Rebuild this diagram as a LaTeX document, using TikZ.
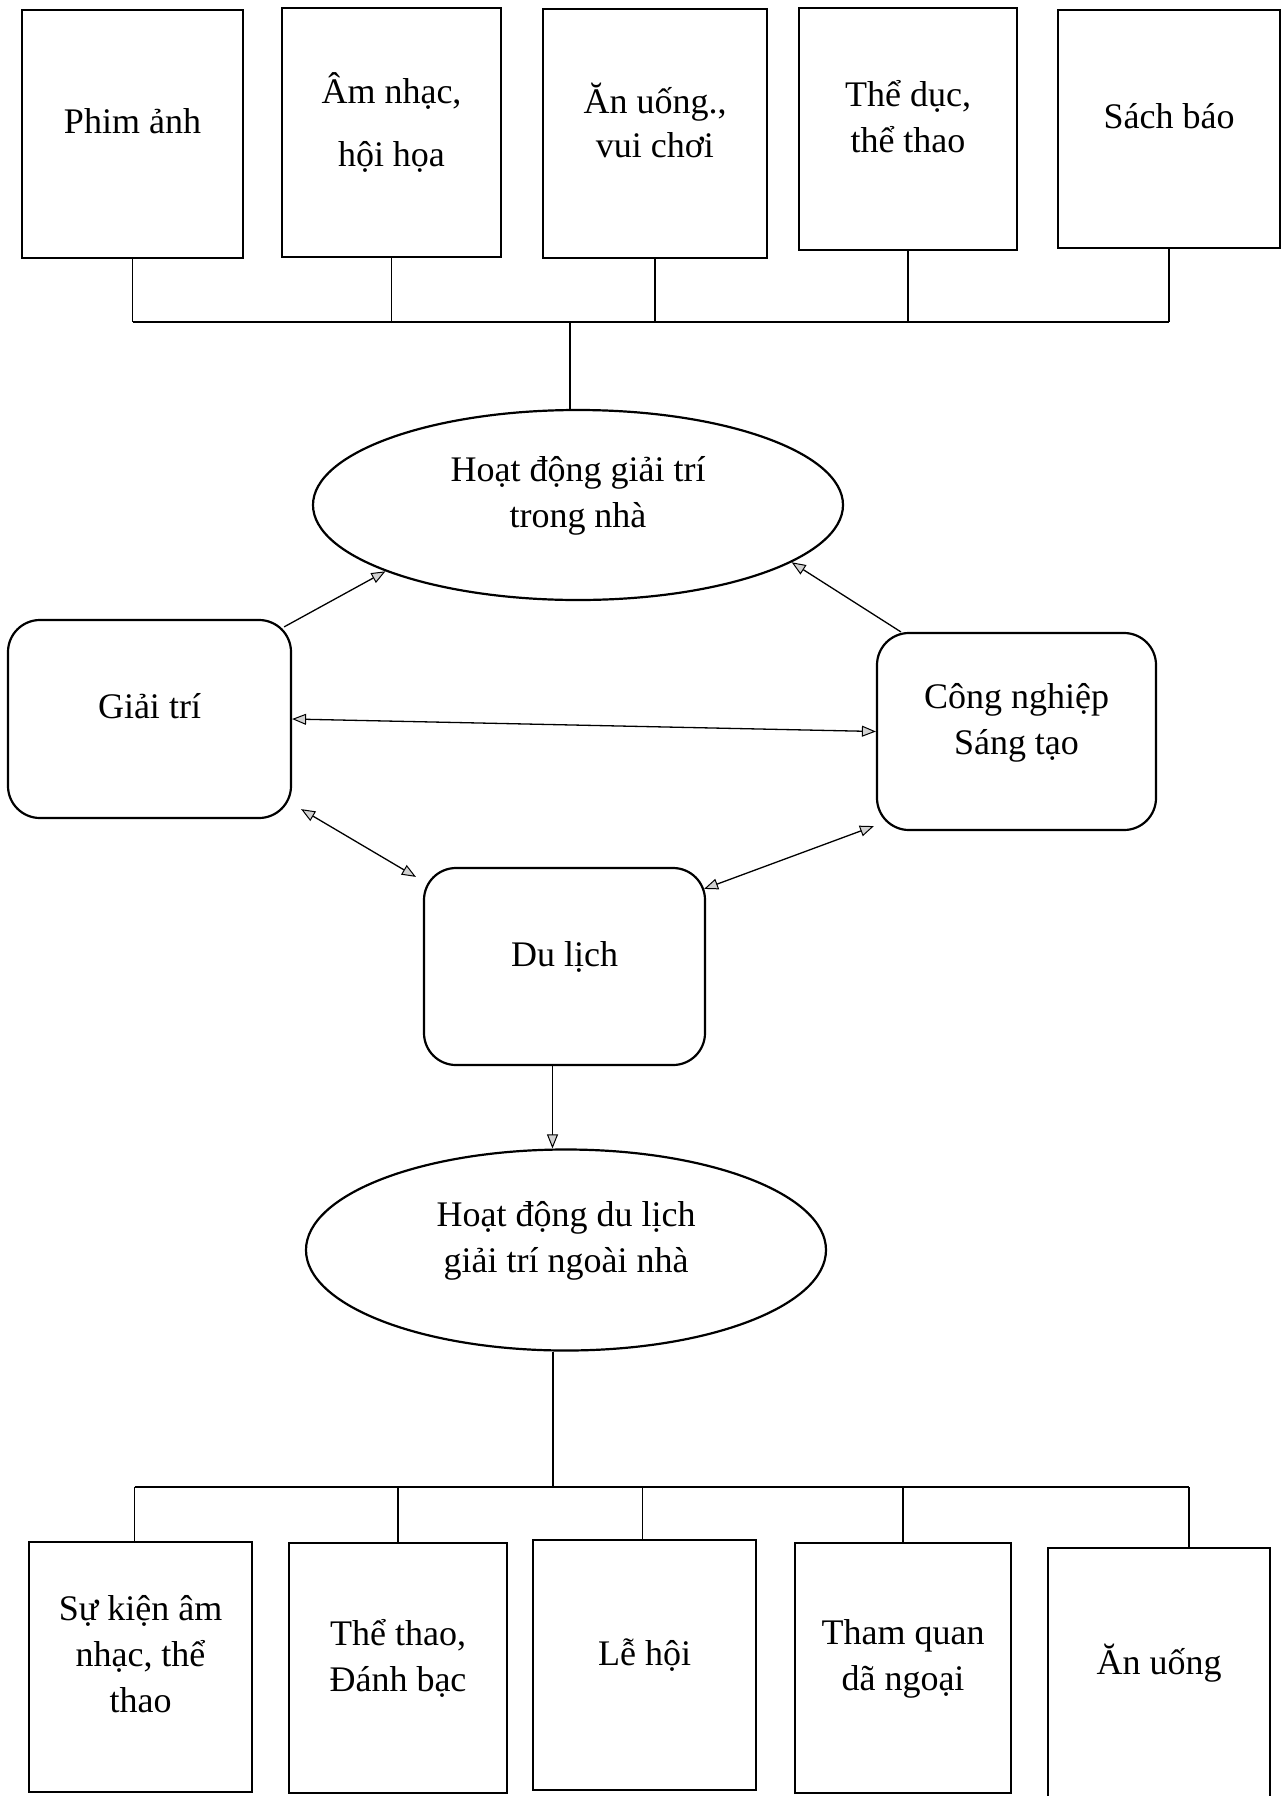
\documentclass[tikz,border=0pt]{standalone}
\usepackage{fontspec}
\setmainfont{Liberation Serif}
\usetikzlibrary{arrows.meta,shapes.geometric,calc}
\begin{document}
\begin{tikzpicture}[x=1pt,y=-1pt,
  lift/.style={execute at end node={\rule[-26pt]{0pt}{0pt}}},
  box/.style={draw, line width=2.2pt, inner sep=0pt, align=center, lift, font=\fontsize{36}{46}\selectfont},
  rbox/.style={box, rounded corners=32pt},
  ell/.style={draw, ellipse, line width=2.2pt, inner sep=0pt, align=center, lift, font=\fontsize{36}{46}\selectfont},
  link/.style={line width=1.3pt},
  tip/.tip={Triangle[length=14pt,width=11pt,fill=gray!35,line width=1pt]},
  arr/.style={line width=1.3pt, -tip},
  darr/.style={line width=1.3pt, tip-tip},
]
\useasboundingbox (0,0) rectangle (1283,1796);

% top boxes
\node[box, minimum width=221pt, minimum height=248pt] (t1) at (132.5,134) {Phim ảnh};
\node[box, minimum width=219pt, minimum height=249pt, font=\fontsize{36}{63}\selectfont] (t2) at (391.5,132.5) {Âm nhạc,\\hội họa};
\node[box, minimum width=224pt, minimum height=249pt, font=\fontsize{36}{44}\selectfont] (t3) at (655,133.5) {Ăn uống.,\\vui chơi};
\node[box, minimum width=218pt, minimum height=242pt] (t4) at (908,129) {Thể dục,\\thể thao};
\node[box, minimum width=222pt, minimum height=238pt] (t5) at (1169,129) {Sách báo};

\coordinate (tb) at (570,322);
\foreach \n in {t1,t2,t3,t4,t5}{
  \draw[link] (\n.south) -- (\n.south |- tb);
}
\draw[link] (t1.south |- tb) -- (t5.south |- tb);

% ellipse 1
\node[ell, minimum width=530pt, minimum height=190pt] (e1) at (578,505) {Hoạt động giải trí\\trong nhà};
\draw[link] (tb) -- (tb |- e1.north);

% middle boxes
\node[rbox, minimum width=283pt, minimum height=198pt] (g) at (149.5,719) {Giải trí};
\node[rbox, minimum width=279pt, minimum height=197pt] (c) at (1016.5,731.5) {Công nghiệp\\Sáng tạo};
\node[rbox, minimum width=281pt, minimum height=197pt] (d) at (564.5,966.5) {Du lịch};

% ellipse 2
\node[ell, minimum width=520pt, minimum height=201pt] (e2) at (566,1250) {Hoạt động du lịch\\giải trí ngoài nhà};

% arrows
\draw[arr] ($(g.north east)+(-8,8)$) -- (e1.199);
\draw[arr] ($(c.north west)+(25,0)$) -- (e1.345);
\draw[darr] (g.east) -- (c.west);
\draw[darr] ($(g.south east)+(9,-10)$) -- ($(d.north west)+(-7,10)$);
\draw[darr] ($(d.north east)+(-2,22)$) -- ($(c.south west)+(-2,-5)$);
\draw[arr] ([xshift=-12pt]d.south) -- ([xshift=-12pt]d.south |- e2.north);

% bottom boxes
\node[box, minimum width=223pt, minimum height=250pt] (b1) at (140.5,1667) {Sự kiện âm\\nhạc, thể\\thao};
\node[box, minimum width=218pt, minimum height=250pt] (b2) at (398,1668) {Thể thao,\\Đánh bạc};
\node[box, minimum width=223pt, minimum height=250pt] (b3) at (644.5,1665) {Lễ hội};
\node[box, minimum width=216pt, minimum height=250pt] (b4) at (903,1668) {Tham quan\\dã ngoại};
\node[box, minimum width=222pt, minimum height=249pt] (b5) at (1159,1672.5) {Ăn uống};

\coordinate (bb) at (553,1487);
\draw[link] (bb |- e2.south) -- (bb);
\draw[link] ([xshift=-6pt]b1.north) -- ([xshift=-6pt]b1.north |- bb);
\draw[link] (b2.north) -- (b2.north |- bb);
\draw[link] ([xshift=-2pt]b3.north) -- ([xshift=-2pt]b3.north |- bb);
\draw[link] (b4.north) -- (b4.north |- bb);
\draw[link] ([xshift=30pt]b5.north) -- ([xshift=30pt]b5.north |- bb);
\draw[link] ([xshift=-6pt]b1.north |- bb) -- ([xshift=30pt]b5.north |- bb);
\end{tikzpicture}
\end{document}
